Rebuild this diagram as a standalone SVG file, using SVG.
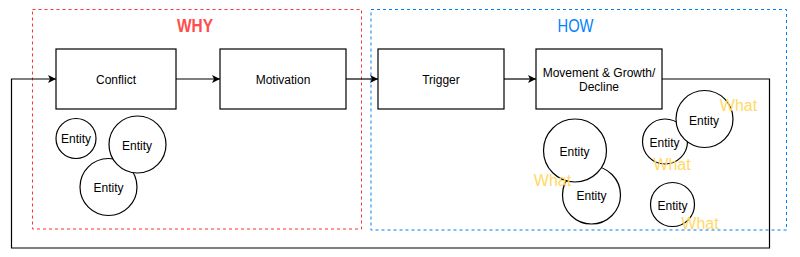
<svg xmlns="http://www.w3.org/2000/svg" width="800" height="257" viewBox="0 0 800 257">
  <style>
    .box { fill: #fff; stroke: #000; stroke-width: 1.2; }
    .circ { fill: #fff; stroke: #000; stroke-width: 1.2; }
    .lbl { font-family: "Liberation Sans", Arial, sans-serif; font-size: 12px; fill: #000; text-anchor: middle; }
    .what { font-family: "Liberation Sans", Arial, sans-serif; font-size: 16px; fill: #FFD966; text-anchor: middle; }
    .conn { fill: none; stroke: #000; stroke-width: 1.2; }
    .zone { fill: none; stroke-width: 1; stroke-dasharray: 3 3; }
  </style>
  <defs>
    <marker id="arrow" viewBox="0 0 10 10" refX="10" refY="5" markerWidth="8" markerHeight="8" markerUnits="userSpaceOnUse" orient="auto">
      <path d="M0,0 L10,5 L0,10 L2.5,5 Z" fill="#000"/>
    </marker>
  </defs>
  <rect width="800" height="257" fill="#fff"/>

  <g id="why-zone">
    <rect class="zone" x="32.5" y="9.5" width="329" height="219.5" stroke="#FF3333"/>
    <text x="195" y="31.5" font-family="Liberation Sans, Arial, sans-serif" font-size="18" font-weight="bold" fill="#FF4D4D" text-anchor="middle" textLength="36" lengthAdjust="spacingAndGlyphs">WHY</text>
  </g>
  <g id="how-zone">
    <rect class="zone" x="371" y="9.5" width="415.5" height="220.5" stroke="#007FFF"/>
    <text x="575.5" y="31.5" font-family="Liberation Sans, Arial, sans-serif" font-size="18" fill="#007FFF" text-anchor="middle" textLength="36" lengthAdjust="spacingAndGlyphs">HOW</text>
  </g>

  <g id="connectors">
    <line class="conn" x1="176" y1="79" x2="220" y2="79" marker-end="url(#arrow)"/>
    <line class="conn" x1="346" y1="79" x2="378" y2="79" marker-end="url(#arrow)"/>
    <line class="conn" x1="504" y1="79" x2="536" y2="79" marker-end="url(#arrow)"/>
    <polyline class="conn" points="662,79 769.5,79 769.5,248 11.5,248 11.5,79 56,79" marker-end="url(#arrow)"/>
  </g>

  <g id="conflict">
    <rect class="box" x="56" y="49" width="120" height="60"/>
    <text class="lbl" x="116" y="83.5">Conflict</text>
  </g>
  <g id="motivation">
    <rect class="box" x="220" y="49" width="126" height="60"/>
    <text class="lbl" x="283" y="83.5">Motivation</text>
  </g>
  <g id="trigger">
    <rect class="box" x="378" y="49" width="126" height="60"/>
    <text class="lbl" x="441" y="83.5">Trigger</text>
  </g>
  <g id="movement">
    <rect class="box" x="536" y="49" width="126" height="60"/>
    <text class="lbl" x="599" y="76.5">Movement &amp; Growth/</text>
    <text class="lbl" x="599" y="90.5">Decline</text>
  </g>

  <g id="entity-1">
    <circle class="circ" cx="76" cy="138.5" r="20"/>
    <text class="lbl" x="76" y="143">Entity</text>
  </g>
  <g id="entity-3">
    <circle class="circ" cx="108.5" cy="187" r="28.5"/>
    <text class="lbl" x="108.5" y="191.5">Entity</text>
  </g>
  <g id="entity-2">
    <circle class="circ" cx="137.5" cy="144.5" r="28.5"/>
    <text class="lbl" x="137" y="149.5">Entity</text>
  </g>

  <g id="entity-b">
    <circle class="circ" cx="591.5" cy="195" r="29"/>
    <text class="lbl" x="591.5" y="199.5">Entity</text>
  </g>
  <g id="entity-a">
    <circle class="circ" cx="575" cy="150.5" r="31.5"/>
    <text class="lbl" x="574.5" y="155.5">Entity</text>
  </g>
  <g id="entity-c">
    <circle class="circ" cx="665" cy="141.5" r="22.5"/>
    <text class="lbl" x="664.5" y="146.5">Entity</text>
  </g>
  <g id="entity-d">
    <circle class="circ" cx="704.5" cy="119" r="28.5"/>
    <text class="lbl" x="704" y="124.5">Entity</text>
  </g>
  <g id="entity-e">
    <circle class="circ" cx="672.5" cy="204.5" r="22"/>
    <text class="lbl" x="672.5" y="210">Entity</text>
  </g>

  <g id="what-1"><text class="what" x="738.5" y="110.5">What</text></g>
  <g id="what-2"><text class="what" x="672" y="169.5">What</text></g>
  <g id="what-3"><text class="what" x="552.5" y="185.5">What</text></g>
  <g id="what-4"><text class="what" x="700" y="228.5">What</text></g>
</svg>
